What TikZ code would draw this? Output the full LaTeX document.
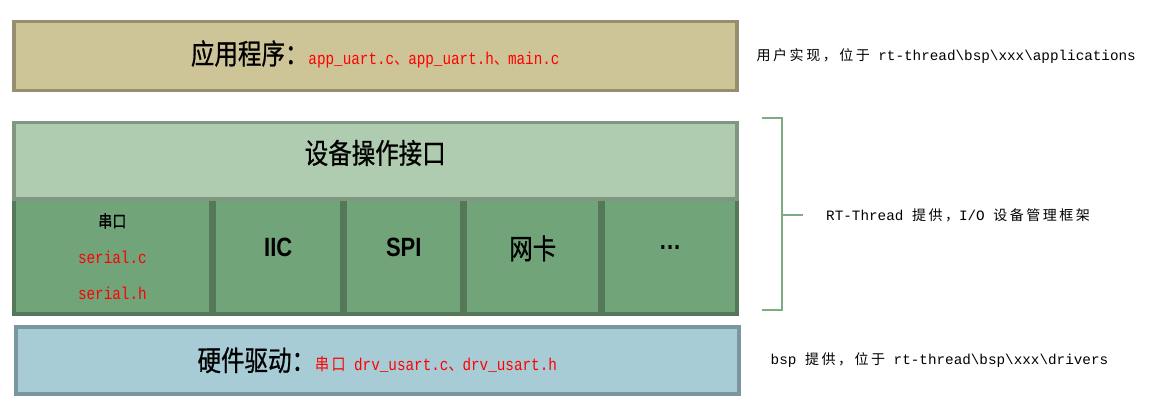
\documentclass[tikz,border=0pt]{standalone}
\usepackage{fontspec}
\setmainfont{Liberation Serif}
\setsansfont{Liberation Sans}
\setmonofont{Liberation Mono}
\newfontfamily\cjk[FakeBold=0.8]{Noto Sans CJK SC}
\newfontfamily\cjkwide[LetterSpace=18]{Noto Sans CJK SC}
\newfontfamily\cjkheavy[FakeBold=1.5]{Noto Sans CJK SC}
\usetikzlibrary{positioning}
\definecolor{appfill}{RGB}{205,197,152}
\definecolor{appline}{RGB}{150,142,110}
\definecolor{opsfill}{RGB}{175,203,176}
\definecolor{opsline}{RGB}{128,150,128}
\definecolor{cellfill}{RGB}{114,164,122}
\definecolor{cellline}{RGB}{84,120,88}
\definecolor{drvfill}{RGB}{167,204,214}
\definecolor{drvline}{RGB}{122,150,158}
\definecolor{braceline}{RGB}{126,172,130}
\newcommand{\tall}[1]{\scalebox{1}[1.2]{#1}}
\newcommand{\code}[1]{{\ttfamily\fontsize{14.3}{17}\selectfont #1}}
\newcommand{\hz}[1]{{\cjkwide\fontsize{14}{17}\selectfont #1}}
\newcommand{\bighz}[1]{{\cjk\fontsize{23.5}{27}\selectfont #1}}
\newcommand{\bs}{\textbackslash}
\tikzstyle{tier} = [rectangle, line width=3.5pt, anchor=north west, inner sep=0pt, font=\ttfamily\fontsize{14.3}{17}\selectfont]
\tikzstyle{cell} = [rectangle, line width=3.5pt, draw=cellline, fill=cellfill, minimum height=115pt, anchor=north west, inner sep=0pt, text depth=18pt]
\tikzstyle{remark} = [anchor=west, inner sep=0pt, font=\ttfamily\fontsize{14.3}{17}\selectfont]
\tikzstyle{brace} = [line width=2pt, draw=braceline]
\begin{document}
\begin{tikzpicture}[x=1pt, y=-1pt]
	\useasboundingbox (0,0) rectangle (1156,409);
	% application layer
	\node (App) [tier, draw=appline, fill=appfill, minimum width=723pt, minimum height=69pt, text depth=8pt] at (12,20) {\tall{\bighz{应用程序：}}\tall{\color{red}\code{app\_uart.c}\hz{、}\code{app\_uart.h}\hz{、}\code{main.c}}};
	\node (AppNote) [remark, right = 18pt of App] {\hz{用户实现，位于} \code{rt-thread\bs bsp\bs xxx\bs applications}};
	% device framework
	\node (Serial) [cell, minimum width=197.25pt, align=center, text depth=0pt, font=\fontsize{14.3}{36}\selectfont] at (12,197) {\tall{{\cjkheavy\fontsize{14}{17}\selectfont 串口}}\\ \tall{\color{red}\code{serial.c}}\\ \tall{\color{red}\code{serial.h}}};
	\node (IIC) [cell, minimum width=127.5pt, right = 0pt of Serial.north east, anchor=north west] {\tall{\sffamily\bfseries\fontsize{22}{26}\selectfont IIC}};
	\node (SPI) [cell, minimum width=116.5pt, right = 0pt of IIC.north east, anchor=north west] {\tall{\sffamily\bfseries\fontsize{22}{26}\selectfont SPI}};
	\node (NIC) [cell, minimum width=134.5pt, right = 0pt of SPI.north east, anchor=north west] {\tall{\bighz{网卡}}};
	\node (More) [cell, minimum width=133.25pt, right = 0pt of NIC.north east, anchor=north west] {\tall{\sffamily\bfseries\fontsize{22}{26}\selectfont .\kern1pt.\kern1pt.}};
	\node (Ops) [tier, draw=opsline, fill=opsfill, minimum width=723pt, minimum height=76pt, text depth=18pt] at (12,121) {\tall{\bighz{设备操作接口}}};
	\coordinate (BraceTop) at (762,118);
	\coordinate (BraceBot) at (762,310);
	\coordinate (BraceMid) at (782,215);
	\draw [brace] (BraceTop) -- ++(20,0) |- (BraceBot);
	\draw [brace] (BraceMid) -- ++(21,0);
	\node (FrameNote) [remark, right = 44pt of BraceMid] {\code{RT-Thread} \hz{提供，}\code{I/O} \hz{设备管理框架}};
	% hardware driver layer
	\node (Drv) [tier, draw=drvline, fill=drvfill, minimum width=723pt, minimum height=67pt] at (14,325) {\tall{\bighz{硬件驱动：}}\tall{\color{red}\hz{串口} \code{drv\_usart.c}\hz{、}\code{drv\_usart.h}}};
	\node (DrvNote) [remark, right = 30pt of Drv] {\code{bsp} \hz{提供，位于} \code{rt-thread\bs bsp\bs xxx\bs drivers}};
\end{tikzpicture}
\end{document}
